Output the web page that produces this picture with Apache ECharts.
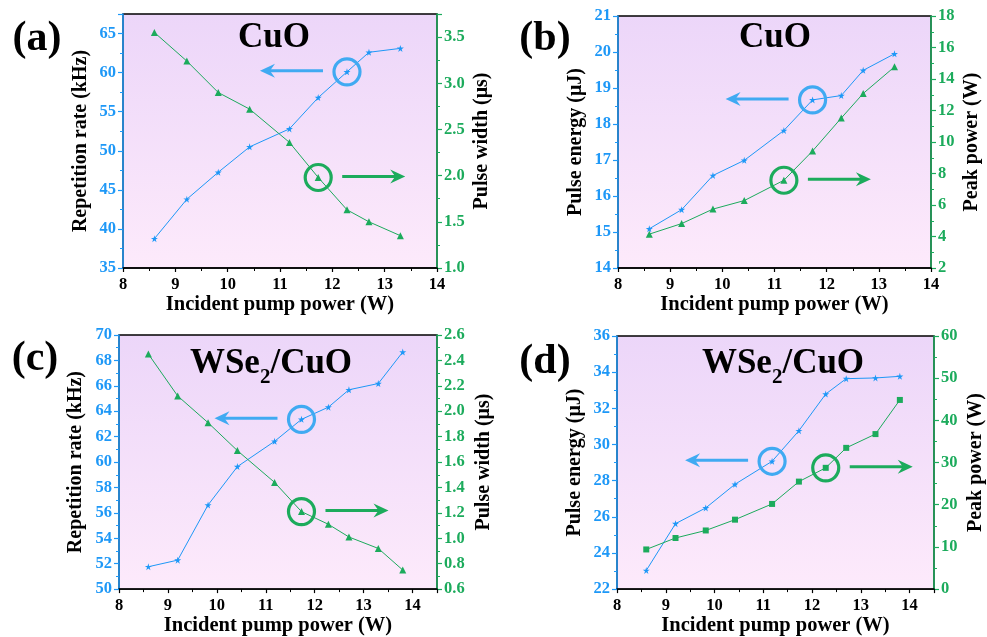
<!DOCTYPE html>
<html>
<head>
<meta charset="utf-8">
<script src="https://cdn.jsdelivr.net/npm/echarts@6/dist/echarts.min.js"></script>
<style>
  html, body { margin: 0; padding: 0; background: #fff; }
  #main { width: 987px; height: 637px; }
</style>
</head>
<body>
<div id="main"></div>
<script>
// pump power (W)
var xCuO = [8.6, 9.22, 9.82, 10.42, 11.18, 11.73, 12.28, 12.7, 13.3];
var xWSe2 = [8.6, 9.2, 9.82, 10.42, 11.18, 11.73, 12.28, 12.7, 13.3, 13.8];

// CuO
var repRateCuO = [38.75, 43.8, 47.25, 50.5, 52.8, 56.8, 60.1, 62.6, 63.1];
var pulseWidthCuO = [3.55, 3.24, 2.90, 2.72, 2.36, 1.98, 1.63, 1.50, 1.35];
var pulseEnergyCuO = [15.09, 15.62, 16.57, 16.99, 17.82, 18.67, 18.79, 19.49, 19.95];
var peakPowerCuO = [4.15, 4.82, 5.74, 6.28, 7.57, 9.43, 11.52, 13.08, 14.77];

// WSe2/CuO
var repRateWSe2 = [51.76, 52.28, 56.62, 59.64, 61.63, 63.36, 64.32, 65.69, 66.18, 68.66];
var pulseWidthWSe2 = [2.45, 2.12, 1.91, 1.69, 1.44, 1.21, 1.11, 1.01, 0.92, 0.75];
var pulseEnergyWSe2 = [23.03, 25.62, 26.49, 27.8, 29.07, 30.76, 32.79, 33.64, 33.68, 33.77];
var peakPowerWSe2 = [9.4, 12.12, 13.9, 16.46, 20.19, 25.48, 28.75, 33.48, 36.75, 44.84];

var panelLabels = ['(a)', '(b)', '(c)', '(d)'];

var serif = "'Times New Roman', 'Liberation Serif', serif";
var blue = '#1e98f7';
var green = '#1cab5c';
var blueRing = '#40aaf2';
var star = 'path://M50,0 L61,35 L98,35 L68,57 L79,91 L50,70 L21,91 L32,57 L2,35 L39,35 Z';

var chart = echarts.init(document.getElementById('main'));

var grids = [
  { left: 123, top: 14, width: 314, height: 254 },
  { left: 618, top: 16, width: 313, height: 252 },
  { left: 119, top: 335, width: 318, height: 258 },
  { left: 617, top: 336, width: 318, height: 257 }
];
grids.forEach(function (g) {
  g.show = true;
  g.borderColor = '#000';
  g.borderWidth = 1.4;
  g.backgroundColor = new echarts.graphic.LinearGradient(0, 0, 0, 1, [
    { offset: 0, color: '#ecd6f9' },
    { offset: 1, color: '#fdeafb' }
  ]);
});

function xAxisOf(g, max) {
  return {
    gridIndex: g, type: 'value', min: 8, max: max, interval: 1,
    name: 'Incident pump power (W)', nameLocation: 'middle', nameGap: 23,
    nameTextStyle: { fontFamily: serif, fontWeight: 'bold', fontSize: 20.5, color: '#000' },
    axisLine: { onZero: false, lineStyle: { color: '#000', width: 1.5 } },
    axisTick: { length: 4, lineStyle: { color: '#000', width: 1.2 } },
    minorTick: { show: true, splitNumber: 2, length: 3, lineStyle: { color: '#000' } },
    splitLine: { show: false },
    axisLabel: {
      margin: 8, fontFamily: serif, fontWeight: 'bold', fontSize: 16.5, color: '#000',
      showMaxLabel: max === 14
    }
  };
}

function yAxisOf(g, pos, color, min, max, interval, showTop, name, nameGap, digits) {
  return {
    gridIndex: g, type: 'value', position: pos, min: min, max: max, interval: interval,
    name: name, nameLocation: 'middle', nameGap: nameGap, nameRotate: 90,
    nameTextStyle: { fontFamily: serif, fontWeight: 'bold', fontSize: 20, color: '#000' },
    axisLine: { show: true, onZero: false, lineStyle: { color: color, width: 1.5 } },
    axisTick: { show: true, length: 5, lineStyle: { color: color, width: 1.2 } },
    minorTick: { show: true, splitNumber: 2, length: 3, lineStyle: { color: color } },
    splitLine: { show: false },
    axisLabel: {
      margin: 7, fontFamily: serif, fontWeight: 'bold', fontSize: 16.5, color: color,
      showMaxLabel: showTop,
      formatter: function (v) { return v.toFixed(digits); }
    }
  };
}

var xAxes = [xAxisOf(0, 14), xAxisOf(1, 14), xAxisOf(2, 14.5), xAxisOf(3, 14.5)];
var yAxes = [
  yAxisOf(0, 'left', blue, 35, 67.5, 5, false, 'Repetition rate (kHz)', 32, 0),
  yAxisOf(0, 'right', green, 1, 3.75, 0.5, false, 'Pulse width (μs)', 35, 1),
  yAxisOf(1, 'left', blue, 14, 21, 1, true, 'Pulse energy (μJ)', 32, 0),
  yAxisOf(1, 'right', green, 2, 18, 2, true, 'Peak power (W)', 31, 0),
  yAxisOf(2, 'left', blue, 50, 70, 2, true, 'Repetition rate (kHz)', 33, 0),
  yAxisOf(2, 'right', green, 0.6, 2.6, 0.2, true, 'Pulse width (μs)', 37, 1),
  yAxisOf(3, 'left', blue, 22, 36, 2, true, 'Pulse energy (μJ)', 32, 0),
  yAxisOf(3, 'right', green, 0, 60, 10, true, 'Peak power (W)', 32, 0)
];

function pairs(xs, ys) {
  return xs.map(function (x, i) { return [x, ys[i]]; });
}

function lineSeries(xa, ya, xs, ys, color, symbol, size) {
  return {
    type: 'line', xAxisIndex: xa, yAxisIndex: ya, data: pairs(xs, ys),
    symbol: symbol, symbolSize: size, showAllSymbol: true,
    itemStyle: { color: color }, lineStyle: { color: color, width: 1 },
    z: 3
  };
}

var series = [
  lineSeries(0, 0, xCuO, repRateCuO, blue, star, 7),
  lineSeries(0, 1, xCuO, pulseWidthCuO, green, 'triangle', 7),
  lineSeries(1, 2, xCuO, pulseEnergyCuO, blue, star, 7),
  lineSeries(1, 3, xCuO, peakPowerCuO, green, 'triangle', 7),
  lineSeries(2, 4, xWSe2, repRateWSe2, blue, star, 7),
  lineSeries(2, 5, xWSe2, pulseWidthWSe2, green, 'triangle', 7),
  lineSeries(3, 6, xWSe2, pulseEnergyWSe2, blue, star, 7),
  lineSeries(3, 7, xWSe2, peakPowerWSe2, green, 'rect', 6)
];

chart.setOption({
  animation: false,
  grid: grids,
  xAxis: xAxes,
  yAxis: yAxes,
  series: series
});

// ring + arrow pointing at the axis each curve belongs to
var rings = [
  { xa: 0, ya: 0, xs: xCuO, ys: repRateCuO, i: 6, color: blueRing, dir: -1 },
  { xa: 0, ya: 1, xs: xCuO, ys: pulseWidthCuO, i: 5, color: green, dir: 1 },
  { xa: 1, ya: 2, xs: xCuO, ys: pulseEnergyCuO, i: 5, color: blueRing, dir: -1 },
  { xa: 1, ya: 3, xs: xCuO, ys: peakPowerCuO, i: 4, color: green, dir: 1 },
  { xa: 2, ya: 4, xs: xWSe2, ys: repRateWSe2, i: 5, color: blueRing, dir: -1 },
  { xa: 2, ya: 5, xs: xWSe2, ys: pulseWidthWSe2, i: 5, color: green, dir: 1 },
  { xa: 3, ya: 6, xs: xWSe2, ys: pulseEnergyWSe2, i: 4, color: blueRing, dir: -1 },
  { xa: 3, ya: 7, xs: xWSe2, ys: peakPowerWSe2, i: 6, color: green, dir: 1 }
];

var graphics = [];
rings.forEach(function (r) {
  var p = chart.convertToPixel({ xAxisIndex: r.xa, yAxisIndex: r.ya }, [r.xs[r.i], r.ys[r.i]]);
  var cx = p[0], cy = p[1];
  var y = cy - 1;
  var x1 = cx + r.dir * 24;
  var tip = cx + r.dir * 87;
  graphics.push({
    type: 'circle', z: 100, shape: { cx: cx, cy: cy, r: 13 },
    style: { fill: 'none', stroke: r.color, lineWidth: 3.2 }
  });
  graphics.push({
    type: 'line', z: 100, shape: { x1: x1, y1: y, x2: tip - r.dir * 6, y2: y },
    style: { stroke: r.color, lineWidth: 3 }
  });
  graphics.push({
    type: 'polygon', z: 100,
    shape: { points: [[tip, y], [tip - r.dir * 15, y - 7], [tip - r.dir * 10, y], [tip - r.dir * 15, y + 7]] },
    style: { fill: r.color }
  });
});

// panel titles
var titleRich = {
  a: { fontFamily: serif, fontWeight: 'bold', fontSize: 35, lineHeight: 40, verticalAlign: 'top', color: '#000' },
  s: { fontFamily: serif, fontWeight: 'bold', fontSize: 21, lineHeight: 21, verticalAlign: 'top', padding: [21, 0, 0, 0], color: '#000' }
};
var titles = [
  { x: 274, y: 40, text: '{a|CuO}' },
  { x: 775, y: 40, text: '{a|CuO}' },
  { x: 271, y: 366, text: '{a|WSe}{s|2}{a|/CuO}' },
  { x: 783, y: 366, text: '{a|WSe}{s|2}{a|/CuO}' }
];
titles.forEach(function (t) {
  graphics.push({
    type: 'text', z: 100, x: t.x, y: t.y,
    style: { text: t.text, rich: titleRich, align: 'center', verticalAlign: 'middle' }
  });
});

var labelPos = [[37, 39], [545, 39], [35, 359], [545, 362]];
labelPos.forEach(function (p, i) {
  graphics.push({
    type: 'text', z: 100, x: p[0], y: p[1],
    style: {
      text: panelLabels[i], fill: '#000', align: 'center', verticalAlign: 'middle',
      font: 'bold 42px ' + serif
    }
  });
});

chart.setOption({ graphic: graphics });
</script>
</body>
</html>
